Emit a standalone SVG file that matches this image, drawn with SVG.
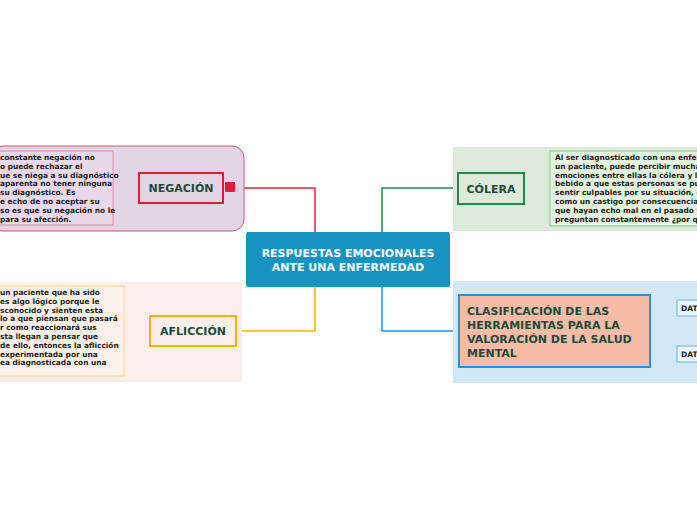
<svg xmlns="http://www.w3.org/2000/svg" width="697" height="520" viewBox="0 0 697 520">
<style>
text{font-family:"DejaVu Sans",Verdana,sans-serif;font-weight:bold}
.s{font-size:7.4px;fill:#222}
.n{font-size:11px;fill:#1d4a3c}
.c{fill:none;stroke-width:1.5}
</style>
<rect width="697" height="520" fill="#fff"/>
<g id="connectors">
<path class="c" stroke="#e02a3a" d="M235 188H315V232"/>
<path class="c" stroke="#1e8a50" d="M458 188H382V232"/>
<path class="c" stroke="#f5b400" d="M236 331H315V287"/>
<path class="c" stroke="#2a90d8" d="M459 331H382V287"/>
<path stroke="#f09090" d="M113 188H139"/>
<path stroke="#90c890" d="M524 188H550"/>
<path stroke="#f5d890" d="M124 331H150"/>
<path fill="none" stroke="#6ab4e8" d="M650 331H662M677 308H662V355H677"/>
</g>
<g id="center">
<rect x="246" y="232" width="204" height="55" rx="2" fill="#1793c0"/>
<text x="348" y="257" font-size="11" fill="#fff" text-anchor="middle">RESPUESTAS EMOCIONALES</text>
<text x="348" y="271" font-size="11" fill="#fff" text-anchor="middle">ANTE UNA ENFERMEDAD</text>
</g>
<g id="negacion">
<rect x="-10" y="146" width="254" height="85" rx="12" fill="#e3d4e6" stroke="#c85a6e"/>
<rect x="-5" y="151" width="118" height="74" fill="#e8d8ea" stroke="#e88a98"/>
<text class="s"><tspan x="0" y="160">constante negación no</tspan><tspan x="0" y="168.8">o puede rechazar el</tspan><tspan x="0" y="177.6">ue se niega a su diagnóstico</tspan><tspan x="0" y="186.4">aparenta no tener ninguna</tspan><tspan x="0" y="195.2">su diagnóstico. Es</tspan><tspan x="0" y="204">e echo de no aceptar su</tspan><tspan x="0" y="212.8">so es que su negación no le</tspan><tspan x="0" y="221.6">para su afección.</tspan></text>
<rect x="139" y="173" width="84" height="30" fill="#e3d4e6" stroke="#e02030" stroke-width="2"/>
<text class="n" x="181" y="192" text-anchor="middle">NEGACIÓN</text>
<rect x="225" y="182" width="10" height="10" rx="1" fill="#d8203a"/>
</g>
<g id="colera">
<rect x="453" y="147" width="260" height="84" fill="#dcebd9"/>
<rect x="550" y="151" width="160" height="75" fill="#e4f2e0" stroke="#8cc88c"/>
<text class="s"><tspan x="555" y="160">Al ser diagnosticado con una enfermedad</tspan><tspan x="555" y="168.8">un paciente, puede percibir muchas</tspan><tspan x="555" y="177.6">emociones entre ellas la cólera y la ira</tspan><tspan x="555" y="186.4">bebido a que estas personas se pueden</tspan><tspan x="555" y="195.2">sentir culpables por su situación, o lo ven</tspan><tspan x="555" y="204">como un castigo por consecuencia de algo</tspan><tspan x="555" y="212.8">que hayan echo mal en el pasado y se</tspan><tspan x="555" y="221.6">preguntan constantemente ¿por qué yo?</tspan></text>
<rect x="458" y="173" width="66" height="31" fill="#dcebd9" stroke="#1e8a50" stroke-width="2"/>
<text class="n" x="491" y="193" text-anchor="middle">CÓLERA</text>
</g>
<g id="aflic">
<rect x="-10" y="282" width="252" height="100" fill="#fbeee9"/>
<rect x="-5" y="286" width="129" height="90" fill="#fcf0ea" stroke="#f5d890"/>
<text class="s"><tspan x="0" y="295">un paciente que ha sido</tspan><tspan x="0" y="303.8">es algo lógico porque le</tspan><tspan x="0" y="312.6">sconocido y sienten esta</tspan><tspan x="0" y="321.4">lo a que piensan que pasará</tspan><tspan x="0" y="330.2">r como reaccionará sus</tspan><tspan x="0" y="339">sta llegan a pensar que</tspan><tspan x="0" y="347.8">de ello, entonces la aflicción</tspan><tspan x="0" y="356.6">experimentada por una</tspan><tspan x="0" y="365.4">ea diagnosticada con una</tspan></text>
<rect x="150" y="316" width="86" height="30" fill="#fbeee9" stroke="#f5b400" stroke-width="2"/>
<text class="n" x="193" y="335" text-anchor="middle">AFLICCIÓN</text>
</g>
<g id="clasif">
<rect x="453" y="281" width="260" height="102" fill="#d3e8f7"/>
<rect x="459" y="295" width="191" height="72" fill="#f8bba5" stroke="#2a90d8" stroke-width="2"/>
<text class="n"><tspan x="467" y="315">CLASIFICACIÓN DE LAS</tspan><tspan x="467" y="329">HERRAMIENTAS PARA LA</tspan><tspan x="467" y="343">VALORACIÓN DE LA SALUD</tspan><tspan x="467" y="357">MENTAL</tspan></text>
<rect x="677" y="300" width="30" height="16" fill="#eaf4fc" stroke="#6ab4e8"/>
<text x="681" y="311" font-size="7.5" fill="#222">DAT</text>
<rect x="677" y="346" width="30" height="16" fill="#eaf4fc" stroke="#6ab4e8"/>
<text x="681" y="357" font-size="7.5" fill="#222">DAT</text>
</g>
</svg>
